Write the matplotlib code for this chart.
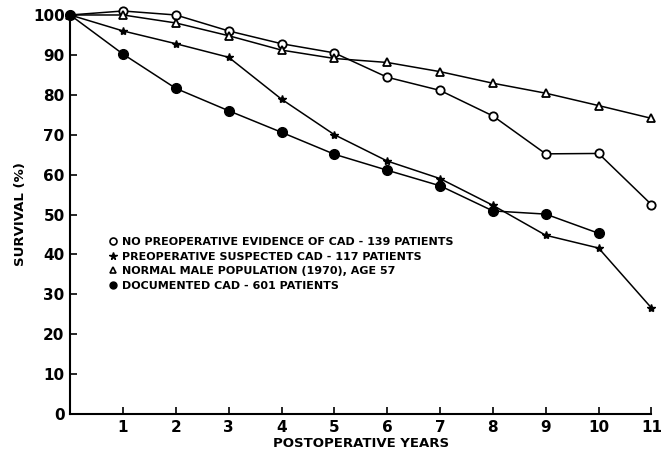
import matplotlib
matplotlib.use("Agg")
import matplotlib.pyplot as plt
from matplotlib.lines import Line2D

years = [0, 1, 2, 3, 4, 5, 6, 7, 8, 9, 10, 11]
no_evidence = [100, 101.0, 100, 96.0, 92.8, 90.5, 84.4, 81.1, 74.7, 65.2, 65.3, 52.5]
suspected = [100, 96.0, 92.8, 89.4, 78.9, 70.0, 63.4, 59.0, 52.3, 44.8, 41.6, 26.6]
normal = [100, 100, 98.0, 94.8, 91.2, 89.1, 88.1, 85.8, 82.9, 80.4, 77.3, 74.1]
doc_years = [0, 1, 2, 3, 4, 5, 6, 7, 8, 9, 10]
documented = [100, 90.2, 81.6, 76.0, 70.6, 65.1, 61.1, 57.2, 50.9, 50.1, 45.3]

labels = ["NO PREOPERATIVE EVIDENCE OF CAD - 139 PATIENTS",
          "PREOPERATIVE SUSPECTED CAD - 117 PATIENTS",
          "NORMAL MALE POPULATION (1970), AGE 57",
          "DOCUMENTED CAD - 601 PATIENTS"]
yticks = [0, 10, 20, 30, 40, 50, 60, 70, 80, 90, 100]
xticks = [1, 2, 3, 4, 5, 6, 7, 8, 9, 10, 11]

plt.rcParams['font.family'] = ['DejaVu Sans']
plt.rcParams['font.weight'] = 'bold'

fig = plt.figure(figsize=(6.62, 4.54), dpi=100)
ax = fig.add_axes([0.106, 0.088, 0.878, 0.879])

lw = 1.1
ax.plot(years, no_evidence, color='black', lw=lw, marker='o', ms=6,
        mfc='white', mec='black', mew=1.3, clip_on=False, zorder=3)
ax.plot(years, suspected, color='black', lw=lw, marker='*', ms=6,
        mfc='black', mec='black', clip_on=False, zorder=3)
ax.plot(years, normal, color='black', lw=lw, marker='^', ms=5.5,
        mfc='white', mec='black', mew=1.3, clip_on=False, zorder=3)
ax.plot(doc_years, documented, color='black', lw=lw, marker='o', ms=7,
        mfc='black', mec='black', clip_on=False, zorder=3)

ax.set_xlim(0, 11)
ax.set_ylim(0, 100)
ax.set_xticks(xticks)
ax.set_yticks(yticks)
ax.set_xticklabels([str(t) for t in xticks], fontsize=11, fontweight='bold')
ax.set_yticklabels([str(t) for t in yticks], fontsize=11, fontweight='bold')
ax.tick_params(axis='x', direction='in', length=5, width=1.2, pad=4)
ax.tick_params(axis='y', direction='in', length=5, width=1.2, pad=4)
for s in ['top', 'right']:
    ax.spines[s].set_visible(False)
for s in ['left', 'bottom']:
    ax.spines[s].set_linewidth(1.5)

ax.set_ylabel("SURVIVAL (%)", fontsize=9.5, fontweight='bold', labelpad=4)
ax.set_xlabel("POSTOPERATIVE YEARS", fontsize=9.5, fontweight='bold', labelpad=2)

handles = [
    Line2D([], [], ls='none', marker='o', ms=5, mfc='white', mec='black', mew=1.2),
    Line2D([], [], ls='none', marker='*', ms=5.5, mfc='black', mec='black'),
    Line2D([], [], ls='none', marker='^', ms=5, mfc='white', mec='black', mew=1.2),
    Line2D([], [], ls='none', marker='o', ms=5, mfc='black', mec='black'),
]
leg = ax.legend(handles, labels, loc='upper left', bbox_to_anchor=(0.062, 0.455),
                frameon=False, handlelength=0.5, handletextpad=0.5,
                labelspacing=0.42, prop={'size': 8, 'weight': 'bold'},
                borderaxespad=0)

fig.savefig("out.png", dpi=100)
